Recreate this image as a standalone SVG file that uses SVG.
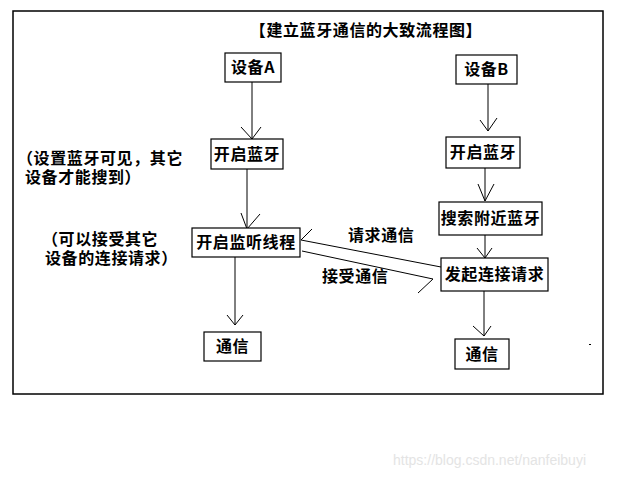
<svg xmlns="http://www.w3.org/2000/svg" width="620" height="478" viewBox="0 0 620 478">
<style>
.box{fill:#fff;stroke:#000;stroke-width:1.2}
.t{font-family:"Noto Sans CJK SC","Liberation Sans",sans-serif;font-size:16px;font-weight:bold;fill:#000;letter-spacing:0.6px}
.n{font-family:"Liberation Sans","Noto Sans CJK SC",sans-serif}
.c{text-anchor:middle}
.ln{stroke:#000;stroke-width:1;fill:none}
</style>
<rect width="620" height="478" fill="#fff"/>
<rect x="13" y="11" width="590" height="383" fill="none" stroke="#000" stroke-width="1.5"/>
<text class="t" x="366" y="36" text-anchor="middle">【建立蓝牙通信的大致流程图】</text>
<text class="t n" x="17" y="164">（设置蓝牙可见，其它</text>
<text class="t n" x="25" y="182.5">设备才能搜到）</text>
<text class="t n" x="42" y="245">（可以接受其它</text>
<text class="t n" x="45" y="263.5">设备的连接请求）</text>
<g id="connectors">
<path class="ln" d="M252,82V139M241,127L252,139L261,127"/>
<path class="ln" d="M247,169V229M241,213L247,229L260,214"/>
<path class="ln" d="M235,257V325M227,315L235,325L243,315"/>
<path class="ln" d="M488,84V131M480,120L488,131L497,118"/>
<path class="ln" d="M485,168V201M478,184L485,201L494,184"/>
<path class="ln" d="M485,235V258M477,248L485,258L492,248"/>
<path class="ln" d="M484,291V336M473,326L484,336L491,326"/>
<path class="ln" d="M441,267L301,240L312,229"/>
<path class="ln" d="M302,251L433,279L418,293"/>
</g>
<text class="t" x="348" y="241">请求通信</text>
<text class="t" x="322" y="282">接受通信</text>
<g id="devA"><rect class="box" x="225" y="53" width="56" height="29"/><text class="t c" x="253" y="73">设备A</text></g>
<g id="devB"><rect class="box" x="456" y="55" width="61" height="29"/><text class="t c" x="486.5" y="75">设备B</text></g>
<g id="btA"><rect class="box" x="211" y="139" width="72" height="30"/><text class="t c" x="247" y="160">开启蓝牙</text></g>
<g id="btB"><rect class="box" x="446" y="137" width="74" height="31"/><text class="t c" x="483" y="158">开启蓝牙</text></g>
<g id="listen"><rect class="box" x="192" y="228" width="108" height="29"/><text class="t c" x="246" y="248">开启监听线程</text></g>
<g id="search"><rect class="box" x="439" y="202" width="103" height="33"/><text class="t c" x="490.5" y="224">搜索附近蓝牙</text></g>
<g id="connect"><rect class="box" x="441" y="258" width="107" height="33"/><text class="t c" x="494.5" y="280">发起连接请求</text></g>
<g id="commA"><rect class="box" x="204" y="332" width="57" height="29"/><text class="t c" x="232.5" y="352">通信</text></g>
<g id="commB"><rect class="box" x="455" y="339" width="54" height="30"/><text class="t c" x="482" y="360">通信</text></g>
<rect x="589" y="344" width="2" height="1" fill="#000"/>
<text x="393" y="465" font-family="Liberation Sans,Arial,sans-serif" font-size="14" fill="#e4e4e4">https://blog.csdn.net/nanfeibuyi</text>
</svg>
